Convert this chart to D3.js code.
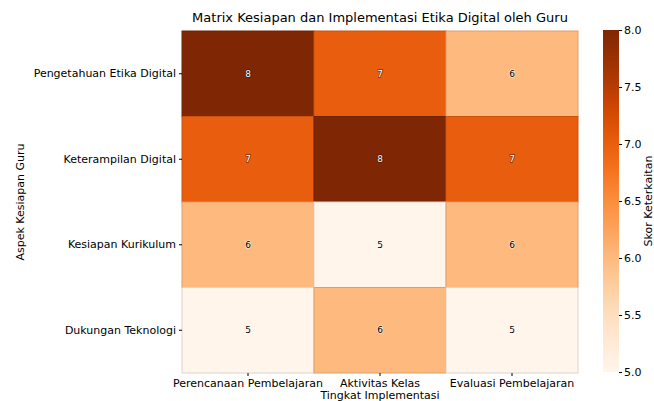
<!DOCTYPE html>
<html>
<head>
<meta charset="utf-8">
<script src="https://cdn.jsdelivr.net/npm/d3@7"></script>
<style>
	body { margin: 0; background: #fff; }
	text { font-family: "DejaVu Sans", sans-serif; }
</style>
</head>
<body>
<div id="chart"></div>
<script>
const rows = ["Pengetahuan Etika Digital", "Keterampilan Digital", "Kesiapan Kurikulum", "Dukungan Teknologi"];
const cols = ["Perencanaan Pembelajaran", "Aktivitas Kelas", "Evaluasi Pembelajaran"];
const values = [
	[8, 7, 6],
	[7, 8, 7],
	[6, 5, 6],
	[5, 6, 5]
];
const cbTicks = [5.0, 5.5, 6.0, 6.5, 7.0, 7.5, 8.0];

let width = 654, height = 401;
let margin = {top: 31, right: 76, bottom: 28, left: 182};

let svg = d3.select("#chart").append("svg")
	.attr("width", width)
	.attr("height", height);

let x = d3.scaleBand()
	.domain(cols)
	.range([margin.left, width - margin.right]);

let y = d3.scaleBand()
	.domain(rows)
	.range([margin.top, height - margin.bottom]);

let color = d3.scaleSequential(d3.interpolateOranges).domain([5, 8]);

let cells = [];
values.forEach((r, i) => {
	r.forEach((v, j) => cells.push({row: rows[i], col: cols[j], v}));
});

svg.append("g").selectAll("rect")
	.data(cells).enter()
	.append("rect")
	.attr("x", d => x(d.col))
	.attr("y", d => y(d.row))
	.attr("width", x.bandwidth())
	.attr("height", y.bandwidth())
	.attr("fill", d => color(d.v))
	.attr("stroke", d => d3.color(color(d.v)).darker(0.4))
	.attr("stroke-width", 1);

// annotations
svg.append("g").selectAll("text")
	.data(cells).enter()
	.append("text")
	.attr("x", d => x(d.col) + x.bandwidth() / 2)
	.attr("y", d => y(d.row) + y.bandwidth() / 2)
	.attr("dy", "0.35em")
	.attr("text-anchor", "middle")
	.style("font-size", "9px")
	.attr("fill", d => d.v >= 7 ? "#fff" : "#000")
	.attr("stroke", d => d.v >= 7 ? "rgba(0,0,0,0.5)" : "rgba(255,255,255,0.6)")
	.attr("stroke-width", 1.5)
	.attr("paint-order", "stroke")
	.text(d => d.v);

let xAxis = g => g
	.attr("transform", `translate(0,${height - margin.bottom})`)
	.call(d3.axisBottom(x).tickSize(3).tickPadding(3))
	.call(g => g.select(".domain").remove());

let yAxis = g => g
	.attr("transform", `translate(${margin.left},0)`)
	.call(d3.axisLeft(y).tickSize(3).tickPadding(3))
	.call(g => g.select(".domain").remove());

svg.append("g")
	.style("font-size", "11px")
	.call(xAxis)
	.selectAll("text").attr("fill", "#000").style("font-family", "DejaVu Sans");

svg.append("g")
	.style("font-size", "11px")
	.call(yAxis)
	.selectAll("text").attr("fill", "#000").style("font-family", "DejaVu Sans");

svg.append("text")
	.attr("x", (margin.left + width - margin.right) / 2)
	.attr("y", 22)
	.attr("text-anchor", "middle")
	.style("font-size", "13px")
	.text("Matrix Kesiapan dan Implementasi Etika Digital oleh Guru");

svg.append("text")
	.attr("x", (margin.left + width - margin.right) / 2)
	.attr("y", 399)
	.attr("text-anchor", "middle")
	.style("font-size", "11px")
	.text("Tingkat Implementasi");

svg.append("text")
	.attr("transform", `translate(24,${(margin.top + height - margin.bottom) / 2}) rotate(-90)`)
	.attr("text-anchor", "middle")
	.style("font-size", "11px")
	.text("Aspek Kesiapan Guru");

// colorbar
let cbX = 603, cbW = 16, cbTop = 30, cbBottom = 372;
let cy = d3.scaleLinear().domain([5, 8]).range([cbBottom, cbTop]);

let defs = svg.append("defs");
let grad = defs.append("linearGradient")
	.attr("id", "cbgrad")
	.attr("x1", 0).attr("y1", 1).attr("x2", 0).attr("y2", 0);
d3.range(0, 1.0001, 0.05).forEach(t => {
	grad.append("stop")
		.attr("offset", t)
		.attr("stop-color", color(5 + 3 * t));
});

svg.append("rect")
	.attr("x", cbX)
	.attr("y", cbTop)
	.attr("width", cbW)
	.attr("height", cbBottom - cbTop)
	.attr("fill", "url(#cbgrad)");

svg.append("g")
	.attr("transform", `translate(${cbX + cbW},0)`)
	.style("font-size", "11px")
	.call(d3.axisRight(cy).tickValues(cbTicks).tickFormat(d3.format(".1f")).tickSize(3).tickPadding(2))
	.call(g => g.select(".domain").remove())
	.selectAll("text").attr("fill", "#000").style("font-family", "DejaVu Sans");

svg.append("text")
	.attr("transform", `translate(652,${(cbTop + cbBottom) / 2}) rotate(-90)`)
	.attr("text-anchor", "middle")
	.style("font-size", "11px")
	.text("Skor Keterkaitan");
</script>
</body>
</html>
